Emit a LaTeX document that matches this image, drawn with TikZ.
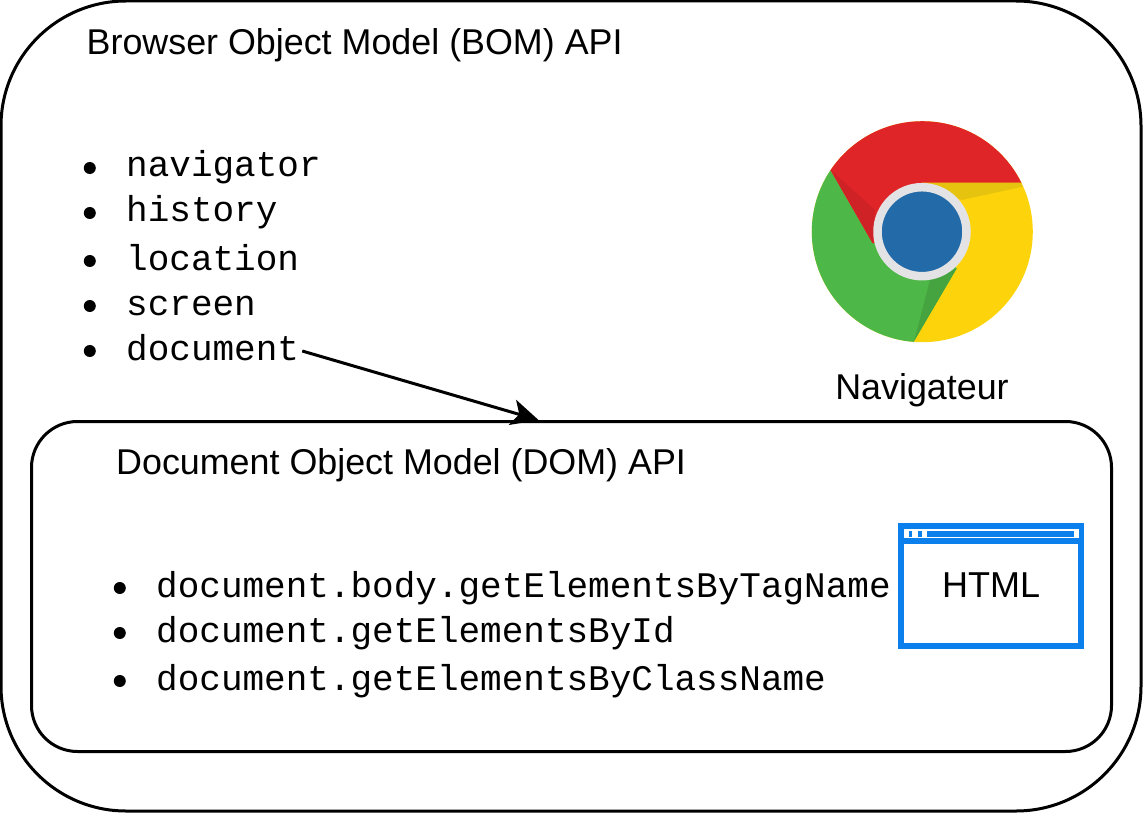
\documentclass[tikz,border=0pt]{standalone}
\usepackage{fontspec}
\setmainfont{Liberation Sans}
\setmonofont{Liberation Mono}
\usepackage{xcolor}
\usetikzlibrary{arrows.meta, positioning}
\definecolor{chromeRed}{HTML}{E02528}
\definecolor{chromeRedDark}{HTML}{CE2227}
\definecolor{chromeGreen}{HTML}{4DB748}
\definecolor{chromeGreenDark}{HTML}{45A43F}
\definecolor{chromeYellow}{HTML}{FDD40B}
\definecolor{chromeYellowDark}{HTML}{E6C30E}
\definecolor{chromeRing}{HTML}{E3E3E5}
\definecolor{chromeBlue}{HTML}{236BA8}
\definecolor{htmlBlue}{HTML}{0B7FEB}

\begin{document}
\begin{tikzpicture}[
    x=1pt, y=-1pt,
    frame/.style={
      rectangle, draw, line width=3pt, inner sep=0pt
    },
    title/.style={
      anchor=base west, inner sep=0pt, font=\fontsize{35.85}{40}\selectfont
    },
    item/.style={
      anchor=west, inner sep=0pt, text height=18pt, text depth=0pt,
      font=\fontsize{36}{40}\selectfont\ttfamily
    },
    dot/.style={
      circle, fill=black, inner sep=0pt, minimum size=12pt
    },
    link/.style={-{Stealth[length=27pt, width=26pt, inset=7pt]}, line width=3pt},
  ]
  \useasboundingbox (0,0) rectangle (1143,813);

  %% ── Frames ──
  \node[frame, rounded corners=125pt, minimum width=1140pt, minimum height=810pt] (BOM) at (571,406) {};
  \node[frame, rounded corners=46pt, minimum width=1080pt, minimum height=330pt] (DOM) at (571.5,586.5) {};

  %% ── BOM list ──
  \node[title] (BOMtitle) at (86.5,55) {Browser Object Model (BOM) API};
  \node[item] (navigator) at (126,168) {navigator};
  \node[item] (history)   at (126,213) {history};
  \node[item] (location)  at (126,261) {location};
  \node[item] (screen)    at (126,306) {screen};
  \node[item] (document)  at (126,351) {document};
  \node[dot, left=30pt of navigator] (d1) {};
  \node[dot, left=30pt of history]   (d2) {};
  \node[dot, left=30pt of location]  (d3) {};
  \node[dot, left=30pt of screen]    (d4) {};
  \node[dot, left=30pt of document]  (d5) {};

  %% ── DOM list ──
  \node[title] (DOMtitle) at (116,474) {Document Object Model (DOM) API};
  \node[item] (byTag)   at (156,588) {document.body.getElementsByTagName};
  \node[item] (byId)    at (156,633) {document.getElementsById};
  \node[item] (byClass) at (156,681) {document.getElementsByClassName};
  \node[dot, left=30pt of byTag]   (d6) {};
  \node[dot, left=30pt of byId]    (d7) {};
  \node[dot, left=30pt of byClass] (d8) {};

  %% ── Chrome logo ──
  \begin{scope}
    \clip (922.3,231.7) circle (110.5pt);
    \fill[chromeYellow] (800,110) rectangle (1044,354);
    \fill[chromeYellowDark] (922,182.7) -- (1022,182.7) -- (1022.7,186.7) -- (961.7,200) -- cycle;
    \fill[chromeGreen] (922,232) -- (872.7,243.3) -- (820,152) -- (790,200) -- (790,360) -- (903,360) -- (956.7,268.3) -- cycle;
    \fill[chromeGreenDark] (956.7,268.3) -- (903,360) -- (914,341.7) -- (930,280) -- cycle;
    \fill[chromeRed] (922,232) -- (872.7,243.3) -- (820,152) -- (800,100) -- (1050,100) -- (1050,182.7) -- (922,182.7) -- cycle;
    \fill[chromeRedDark] (830.7,170) -- (872.7,243.3) -- (875,210) -- cycle;
  \end{scope}
  \node[circle, fill=chromeBlue, draw=chromeRing, line width=8.5pt, inner sep=0pt, minimum size=89pt] (logo) at (922,231.7) {};
  \node[title, anchor=base] (navigateur) at (922,399) {Navigateur};

  %% ── HTML window ──
  \node[rectangle, draw=htmlBlue, line width=6pt, inner sep=0pt, minimum width=180pt, minimum height=120pt,
        text depth=2pt, font=\fontsize{36}{40}\selectfont] (html) at (991.2,586.3) {HTML};
  \fill[htmlBlue] (901,526) rectangle (1081,544);
  \fill[white] (904,529.3) rectangle (1079,537.7);
  \fill[htmlBlue] (909,530.7) rectangle (912.3,536.7);
  \fill[htmlBlue] (917.7,530.7) rectangle (921.7,536.7);
  \fill[htmlBlue] (926.7,530.7) rectangle (1074.3,536.7);

  %% ── Arrow ──
  \coordinate (DOMtop) at ([xshift=-33pt]DOM.north);
  \draw[link] ([xshift=3pt]document.east) -- (DOMtop);

\end{tikzpicture}
\end{document}
